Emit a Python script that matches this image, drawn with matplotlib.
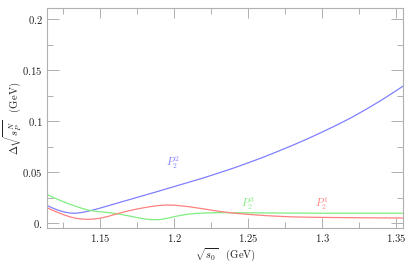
import matplotlib
matplotlib.use("Agg")
import matplotlib.pyplot as plt
from matplotlib.ticker import FixedLocator, FixedFormatter

plt.rcParams['mathtext.fontset'] = 'cm'
plt.rcParams['font.family'] = 'serif'
plt.rcParams['font.serif'] = ['DejaVu Serif']

# sqrt(s0) grid (GeV) and curve values (GeV)
x_blue = [1.1142, 1.118, 1.122, 1.126, 1.130, 1.134, 1.138, 1.142, 1.146, 1.150,
          1.160, 1.170, 1.180, 1.190, 1.200, 1.210, 1.220, 1.230, 1.240, 1.250,
          1.260, 1.270, 1.280, 1.290, 1.300, 1.310, 1.320, 1.330, 1.340, 1.350, 1.3545]
P2_2 = [0.0172, 0.0147, 0.0124, 0.0107, 0.0097, 0.0096, 0.0104, 0.0116, 0.0130, 0.0146,
        0.0188, 0.0230, 0.0272, 0.0314, 0.0357, 0.0400, 0.0443, 0.0490, 0.0538, 0.0590,
        0.0644, 0.0702, 0.0762, 0.0825, 0.0892, 0.0962, 0.1036, 0.1118, 0.1205, 0.1298, 0.1342]

x_green = [1.1142, 1.118, 1.122, 1.126, 1.130, 1.134, 1.138, 1.142, 1.146, 1.150,
           1.155, 1.160, 1.165, 1.170, 1.175, 1.180, 1.185, 1.190, 1.195, 1.200,
           1.205, 1.210, 1.215, 1.220, 1.230, 1.240, 1.250, 1.270, 1.300, 1.330, 1.3545]
P2_3 = [0.0280, 0.0254, 0.0228, 0.0204, 0.0182, 0.0162, 0.0143, 0.0127, 0.0117, 0.0110,
        0.0103, 0.0094, 0.0082, 0.0068, 0.0053, 0.0040, 0.0032, 0.0033, 0.0045, 0.0062,
        0.0076, 0.0087, 0.0094, 0.0098, 0.0101, 0.0101, 0.0100, 0.0098, 0.0096, 0.0096, 0.0096]

x_red = [1.1142, 1.118, 1.122, 1.126, 1.130, 1.134, 1.138, 1.142, 1.146, 1.150,
         1.155, 1.160, 1.165, 1.170, 1.175, 1.180, 1.185, 1.190, 1.195, 1.200,
         1.210, 1.220, 1.230, 1.240, 1.250, 1.260, 1.270, 1.280, 1.290, 1.300,
         1.320, 1.340, 1.3545]
P2_1 = [0.0150, 0.0125, 0.0101, 0.0078, 0.0059, 0.0046, 0.0038, 0.0036, 0.0039, 0.0047,
        0.0063, 0.0084, 0.0104, 0.0122, 0.0137, 0.0151, 0.0163, 0.0172, 0.0176, 0.0175,
        0.0160, 0.0138, 0.0115, 0.0097, 0.0085, 0.0074, 0.0066, 0.0060, 0.0057, 0.0055,
        0.0052, 0.0050, 0.0049]

xticks_major = [1.15, 1.2, 1.25, 1.3, 1.35]
xtick_labels = ["1.15", "1.2", "1.25", "1.3", "1.35"]
xticks_minor = [1.125, 1.175, 1.225, 1.275, 1.325]
yticks_major = [0.0, 0.05, 0.1, 0.15, 0.2]
ytick_labels = ["0.", "0.05", "0.1", "0.15", "0.2"]
yticks_minor = [0.025, 0.075, 0.125, 0.175]

blue  = '#8080ff'
green = '#80ee80'
red   = '#ff8080'
frame = '#b0b0b0'

fig = plt.figure(figsize=(4.07, 2.64), dpi=100)
ax = fig.add_axes([47/407, 1-228/264, 356/407, 220/264])

ax.plot(x_blue,  P2_2, color=blue,  lw=0.9)
ax.plot(x_green, P2_3, color=green, lw=0.9)
ax.plot(x_red,   P2_1, color=red,   lw=0.9)

fs = 7.7
ax.text(1.199, 0.0595, r"$P_2^2$", color=blue,  fontsize=fs, ha='center', va='center')
ax.text(1.2495, 0.019, r"$P_2^3$", color=green, fontsize=fs, ha='center', va='center')
ax.text(1.2995, 0.019, r"$P_2^1$", color=red,   fontsize=fs, ha='center', va='center')

ax.set_xlim(1.1142, 1.3545)
ax.set_ylim(-0.0049, 0.2108)

ax.xaxis.set_major_locator(FixedLocator(xticks_major))
ax.xaxis.set_major_formatter(FixedFormatter(["$%s$" % s for s in xtick_labels]))
ax.xaxis.set_minor_locator(FixedLocator(xticks_minor))
ax.yaxis.set_major_locator(FixedLocator(yticks_major))
ax.yaxis.set_major_formatter(FixedFormatter(["$%s$" % s for s in ytick_labels]))
ax.yaxis.set_minor_locator(FixedLocator(yticks_minor))

for sp in ax.spines.values():
    sp.set_color(frame)
    sp.set_linewidth(0.8)

ax.tick_params(axis='x', which='major', direction='in', length=7.5, width=0.7,
               color=frame, top=True, labelsize=fs, labelcolor='#222222', pad=3)
ax.tick_params(axis='x', which='minor', direction='in', length=4.3, width=0.7,
               color=frame, top=True)
ax.tick_params(axis='y', which='major', direction='in', length=8.6, width=0.7,
               color=frame, right=True, labelsize=fs, labelcolor='#222222', pad=3)
ax.tick_params(axis='y', which='minor', direction='in', length=4.3, width=0.7,
               color=frame, right=True)

ax.set_xlabel(r"$\sqrt{s_0}\quad\mathrm{(GeV)}$", fontsize=fs, color='#222222', labelpad=2)
ax.set_ylabel(r"$\Delta\sqrt{s_P^N}\quad\mathrm{(GeV)}$", fontsize=fs, color='#222222')
ax.yaxis.set_label_coords(-0.064, 0.5)

fig.savefig("out.png", dpi=100)
